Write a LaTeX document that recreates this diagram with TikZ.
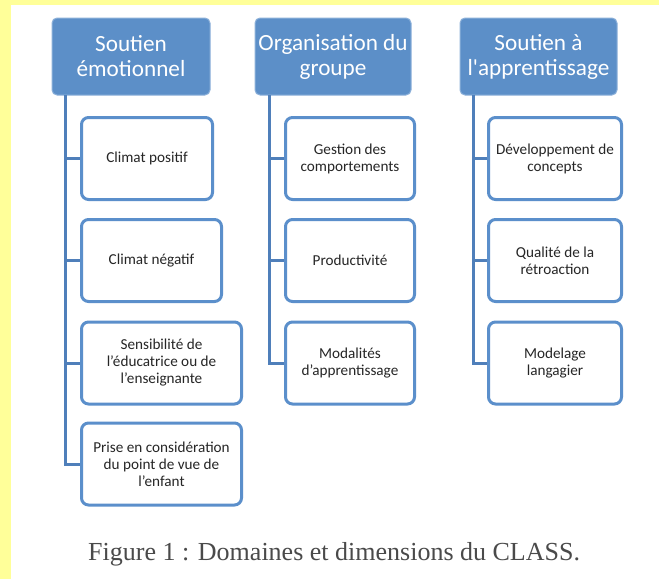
\documentclass[tikz,border=0pt]{standalone}
\usepackage{fontspec}
\setmainfont{Liberation Serif}
\newfontfamily\carlitofont{Carlito}
\definecolor{bgyellow}{HTML}{FFFF99}
\definecolor{hdrblue}{HTML}{5C8FC8}
\definecolor{hdredge}{HTML}{8DB1DA}
\definecolor{linkblue}{HTML}{4F7FBA}
\definecolor{boxedge}{HTML}{5B8FCB}
\definecolor{txtgray}{HTML}{262626}
\definecolor{capgray}{HTML}{4A4A4A}
\begin{document}
\begin{tikzpicture}[x=1pt,y=-1pt,
  hdr/.style={rectangle,rounded corners=5pt,fill=hdrblue,draw=hdredge,line width=1pt,
    text=white,font=\carlitofont\fontsize{23.2}{25}\selectfont,align=center,inner sep=0pt,
    minimum height=77pt},
  dim/.style={rectangle,rounded corners=7pt,fill=white,draw=boxedge,line width=3pt,
    text=txtgray,font=\carlitofont\fontsize{15.2}{17}\selectfont,align=center,inner sep=0pt,
    minimum height=82pt},
  link/.style={draw=linkblue,line width=3pt}]
\fill[bgyellow] (0,0) rectangle (659,579);
\fill[white] (11,5) rectangle (659,579);
\useasboundingbox (0,0) rectangle (659,579);
% headers
\node[hdr,minimum width=158pt] (h1) at (131,56.5) {Soutien\\émotionnel};
\node[hdr,minimum width=156pt] (h2) at (333,56.5) {Organisation du\\groupe};
\node[hdr,minimum width=157pt] (h3) at (538.5,56.5) {Soutien à\\l'apprentissage};
% column 1
\node[dim,minimum width=131pt] (c11) at (147,158.5) {Climat positif};
\node[dim,minimum width=140pt] (c12) at (151.5,260.5) {Climat négatif};
\node[dim,minimum width=160pt] (c13) at (161.5,363) {Sensibilité de\\l’éducatrice ou de\\l’enseignante};
\node[dim,minimum width=160pt] (c14) at (161.5,464) {Prise en considération\\du point de vue de\\l’enfant};
% column 2
\node[dim,minimum width=129pt] (c21) at (350,158.5) {Gestion des\\comportements};
\node[dim,minimum width=129pt] (c22) at (350,260.5) {Productivité};
\node[dim,minimum width=129pt] (c23) at (350,363) {Modalités\\d’apprentissage};
% column 3
\node[dim,minimum width=133pt] (c31) at (555,158.5) {Développement de\\concepts};
\node[dim,minimum width=133pt] (c32) at (555,260.5) {Qualité de la\\rétroaction};
\node[dim,minimum width=133pt] (c33) at (555,363) {Modelage\\langagier};
% connectors
\coordinate (t1) at (65,95);
\coordinate (t2) at (269,95);
\coordinate (t3) at (473,95);
\draw[link] (t1) |- (c14.west);
\draw[link] (t1 |- c11.west) -- (c11.west);
\draw[link] (t1 |- c12.west) -- (c12.west);
\draw[link] (t1 |- c13.west) -- (c13.west);
\draw[link] (t2) |- (c23.west);
\draw[link] (t2 |- c21.west) -- (c21.west);
\draw[link] (t2 |- c22.west) -- (c22.west);
\draw[link] (t3) |- (c33.west);
\draw[link] (t3 |- c31.west) -- (c31.west);
\draw[link] (t3 |- c32.west) -- (c32.west);
% caption
\node[text=capgray,font=\fontsize{26}{30}\selectfont,anchor=base west,inner sep=0pt] (cap) at (88,560) {Figure 1 : Domaines et dimensions du CLASS.};
\end{tikzpicture}
\end{document}
